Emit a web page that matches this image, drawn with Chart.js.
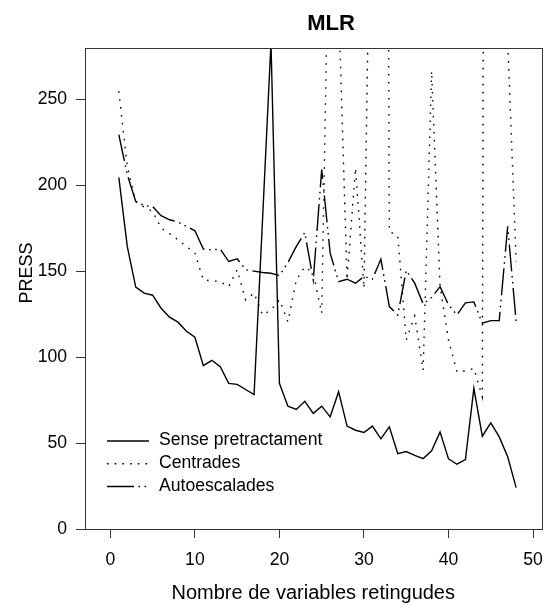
<!DOCTYPE html>
<html>
<head>
<meta charset="utf-8">
<script src="https://cdn.jsdelivr.net/npm/chart.js@4"></script>
<style>
  html, body { margin: 0; padding: 0; background: #fff; }
  #wrap { width: 555px; height: 605px; }
</style>
</head>
<body>
<div id="wrap"><canvas id="c" width="555" height="605"></canvas></div>
<script>
// ---- data ----
const chartTitle = 'MLR';
const xAxisTitle = 'Nombre de variables retingudes';
const yAxisTitle = 'PRESS';
const seriesNames = ['Sense pretractament', 'Centrades', 'Autoescalades'];

const nVariables = [1,2,3,4,5,6,7,8,9,10,11,12,13,14,15,16,17,18,19,20,21,22,23,24,
                    25,26,27,28,29,30,31,32,33,34,35,36,37,38,39,40,41,42,43,44,45,46,47,48];

const sensePretractament = [204.7,164.5,140.8,137.3,136.1,128.5,123.3,120.4,115.1,111.6,95.1,98.2,
  94.5,84.8,84.2,81.2,78.3,180,283,84.8,71.5,69.6,74.3,67.3,71.5,65.3,79.9,59.9,57.5,56.2,59.9,52.5,
  59.5,43.9,45.1,42.9,41.0,45.5,56.5,40.8,37.7,40.4,81.9,54.0,61.8,53.6,42.0,24.1];

const centrades = [254.9,211,190.7,187.4,184.9,175.2,171.9,168.4,164.5,160.6,145,144.5,
  144,141.1,150.9,133.4,137.3,124.6,127.5,133.4,120.7,145,152.6,149,125.6,400,306,145,210.2,140.2,458,1500,
  173.2,170.7,110,124,92.5,266.6,141.5,110,91.5,92,93.5,77,2000,1500,285,155.7];

const autoescalades = [229.6,206.3,190.7,188.2,187.8,182.4,180,178.7,176.1,173.6,163,162.5,
  163,155.7,157.3,150.9,150.1,149.3,148.9,147.6,155,164.5,172.6,145,209.2,160.6,144,145.4,143.1,147,145.4,157.1,
  129.5,124.6,150.5,143.1,131,134.8,141.1,130.5,124.6,131.6,132.2,119.8,121.3,121.3,176.2,120.7];

const xTicks = [0, 10, 20, 30, 40, 50];
const yTicks = [0, 50, 100, 150, 200, 250];
const xRange = [-3, 51];
const yRange = [0, 280];

// ---- styles ----
const FONT = '"Liberation Sans", Arial, Helvetica, sans-serif';
const INK = '#000';
const FRAME = '#333';
const dashStyles = [[], [1.6, 6.4], [27, 4.5, 1.6, 4.5, 1.6, 4.5]];
const legendDash = [[], [1.6, 6.1], [27, 4.5, 1.6, 4.5, 1.6, 4.5]];

function toPoints(ys) { return nVariables.map((x, i) => ({ x: x, y: ys[i] })); }

const allSeries = [sensePretractament, centrades, autoescalades];
const datasets = allSeries.map((ys, i) => ({
  label: seriesNames[i],
  data: toPoints(ys),
  borderColor: INK,
  borderWidth: 1.4,
  borderDash: dashStyles[i],
  pointRadius: 0,
  pointHoverRadius: 0,
  tension: 0,
  fill: false
}));

const framePlugin = {
  id: 'frame',
  afterDraw(chart) {
    const { ctx, chartArea: a } = chart;
    ctx.save();
    ctx.strokeStyle = FRAME;
    ctx.lineWidth = 1;
    ctx.strokeRect(Math.round(a.left) + 0.5, Math.round(a.top) + 0.5,
                   Math.round(a.right - a.left), Math.round(a.bottom - a.top));
    ctx.restore();
  }
};

const titlePlugin = {
  id: 'mainTitle',
  afterDraw(chart) {
    const { ctx } = chart;
    ctx.save();
    ctx.fillStyle = INK;
    ctx.font = 'bold 22px ' + FONT;
    ctx.textAlign = 'center';
    ctx.textBaseline = 'middle';
    ctx.fillText(chartTitle, 331, 24);
    // y axis title
    ctx.font = '18px ' + FONT;
    ctx.translate(27, 273);
    ctx.rotate(-Math.PI / 2);
    ctx.fillText(yAxisTitle, 0, 0);
    ctx.restore();
  }
};

const legendPlugin = {
  id: 'innerLegend',
  afterDraw(chart) {
    const { ctx } = chart;
    const x0 = 107, x1 = 149, tx = 159;
    const rows = [440.5, 463.3, 486];
    ctx.save();
    chart.data.datasets.forEach((ds, i) => {
      const y = rows[i];
      ctx.strokeStyle = INK;
      ctx.lineWidth = 1.4;
      ctx.setLineDash(legendDash[i]);
      ctx.beginPath();
      ctx.moveTo(x0, y + 0.5);
      ctx.lineTo(x1, y + 0.5);
      ctx.stroke();
      ctx.setLineDash([]);
      ctx.fillStyle = INK;
      ctx.font = '17.6px ' + FONT;
      ctx.textAlign = 'left';
      ctx.textBaseline = 'middle';
      ctx.fillText(ds.label, tx, y);
    });
    ctx.restore();
  }
};

new Chart(document.getElementById('c'), {
  type: 'line',
  data: { datasets: datasets },
  options: {
    responsive: false,
    animation: false,
    events: [],
    layout: { padding: { top: 48, right: 9, left: 0, bottom: 0 } },
    plugins: {
      legend: { display: false },
      title: { display: false },
      tooltip: { enabled: false }
    },
    scales: {
      x: {
        type: 'linear',
        min: xRange[0],
        max: xRange[1],
        afterBuildTicks: s => { s.ticks = xTicks.map(v => ({ value: v })); },
        afterFit: s => { s.height = 76; },
        grid: { display: true, drawOnChartArea: false, drawTicks: true, tickLength: 9, color: FRAME, lineWidth: 1 },
        border: { display: true, color: FRAME, width: 1 },
        ticks: { color: INK, font: { family: FONT, size: 17.6 }, padding: 12, maxRotation: 0, autoSkip: false },
        title: { display: true, text: xAxisTitle, color: INK, font: { family: FONT, size: 20 }, padding: { top: 0, bottom: 0 } }
      },
      y: {
        type: 'linear',
        min: yRange[0],
        max: yRange[1],
        afterBuildTicks: s => { s.ticks = yTicks.map(v => ({ value: v })); },
        afterFit: s => { s.width = 85; },
        grid: { display: true, drawOnChartArea: false, drawTicks: true, tickLength: 9, color: FRAME, lineWidth: 1 },
        border: { display: true, color: FRAME, width: 1 },
        ticks: { color: INK, font: { family: FONT, size: 17.6 }, padding: 9, autoSkip: false },
        title: { display: false }
      }
    }
  },
  plugins: [framePlugin, titlePlugin, legendPlugin]
});
</script>
</body>
</html>
